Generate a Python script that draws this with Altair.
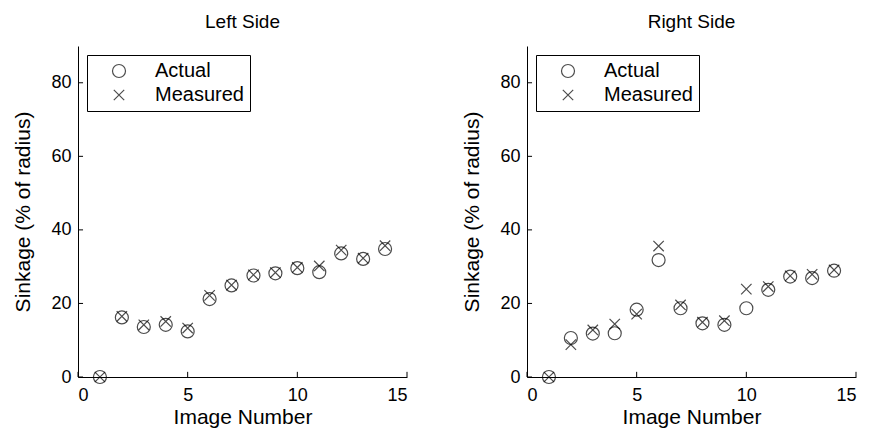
import altair as alt
import pandas as pd

images = list(range(1, 15))
left_actual = [0, 16.2, 13.6, 14.2, 12.4, 21.2, 24.9, 27.6, 28.2, 29.6, 28.5, 33.6, 32.1, 34.8]
left_measured = [0, 16.5, 14.2, 15.1, 13.3, 22.2, 25.0, 27.8, 28.4, 29.8, 30.2, 34.5, 32.3, 35.7]
right_actual = [0, 10.6, 11.8, 11.9, 18.3, 31.8, 18.7, 14.6, 14.2, 18.7, 23.7, 27.3, 26.9, 28.9]
right_measured = [0, 8.8, 12.8, 14.4, 17.1, 35.6, 19.6, 14.9, 15.3, 23.9, 24.6, 27.5, 27.9, 29.1]

series_labels = ["Actual", "Measured"]
x_ticks = [0, 5, 10, 15]
y_ticks = [0, 20, 40, 60, 80]

FONT = "Liberation Sans"
CROSS = "M-0.8,-0.8L0.8,0.8M-0.8,0.8L0.8,-0.8"
X_TITLE = "Image Number"
Y_TITLE = "Sinkage (% of radius)"


def panel(title, actual, measured):
    df = pd.DataFrame({
        "image": images * 2,
        "value": actual + measured,
        "series": [series_labels[0]] * len(images) + [series_labels[1]] * len(images),
    })
    xt = pd.DataFrame({"t": x_ticks, "y0": [0] * 4, "y1": [1.4] * 4})
    yt = pd.DataFrame({"t": y_ticks, "x0": [0] * 5, "x1": [0.23] * 5})

    xs = alt.Scale(domain=[0, 15], nice=False, zero=False)
    ys = alt.Scale(domain=[0, 90], nice=False)
    xa = alt.Axis(values=x_ticks, ticks=False, grid=False, format="d",
                  labelPadding=9, titlePadding=2)
    ya = alt.Axis(values=y_ticks, ticks=False, grid=False, format="d",
                  labelPadding=7, titlePadding=17)

    pts = alt.Chart(df).mark_point(filled=False, strokeWidth=1.2, size=169, color="black").encode(
        x=alt.X("image:Q", scale=xs, title=X_TITLE, axis=xa),
        y=alt.Y("value:Q", scale=ys, title=Y_TITLE, axis=ya),
        shape=alt.Shape("series:N",
                        scale=alt.Scale(domain=series_labels, range=["circle", CROSS]),
                        legend=alt.Legend(title=None, orient="none", legendX=9, legendY=9,
                                          strokeColor="black", fillColor="white", padding=6,
                                          labelFontSize=20, labelFont=FONT, labelColor="black",
                                          symbolOffset=16, labelOffset=26, rowPadding=4,
                                          symbolSize=169, symbolStrokeColor="black",
                                          symbolStrokeWidth=1.2, symbolType="circle",
                                          labelLimit=300)),
    )
    xtick = alt.Chart(xt).mark_rule(color="black", strokeWidth=1).encode(
        x=alt.X("t:Q", scale=xs, title=X_TITLE, axis=xa),
        y=alt.Y("y0:Q", scale=ys, title=Y_TITLE, axis=ya), y2="y1:Q")
    ytick = alt.Chart(yt).mark_rule(color="black", strokeWidth=1).encode(
        y=alt.Y("t:Q", scale=ys, title=Y_TITLE, axis=ya),
        x=alt.X("x0:Q", scale=xs, title=X_TITLE, axis=xa), x2="x1:Q")
    return alt.layer(pts, xtick, ytick).properties(
        width=329, height=331,
        title=alt.TitleParams(title, fontSize=19, font=FONT, fontWeight="normal",
                              color="black", offset=14),
    )


chart = alt.hconcat(
    panel("Left Side", left_actual, left_measured),
    panel("Right Side", right_actual, right_measured),
    spacing=53,
).resolve_legend(shape="independent").properties(
    background="white", padding={"left": 4, "top": 5, "right": 5, "bottom": 5}
).configure_view(
    stroke=None
).configure_axis(
    domainColor="black", domainWidth=1, labelFont=FONT, titleFont=FONT,
    labelFontSize=18, titleFontSize=21, labelColor="black", titleColor="black",
    titleFontWeight="normal",
)

chart.save("out.html", embed_options={"renderer": "svg", "actions": False})
